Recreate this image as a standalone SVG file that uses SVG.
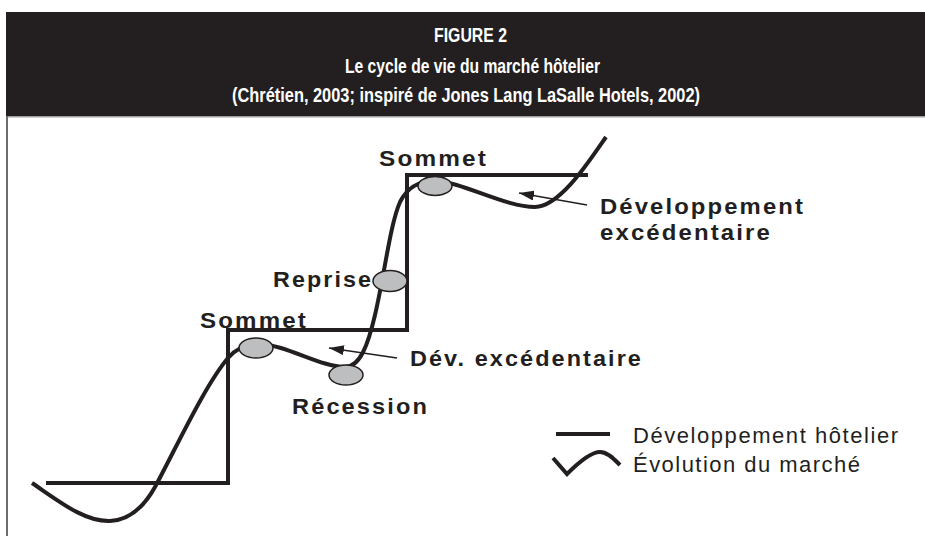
<svg xmlns="http://www.w3.org/2000/svg" width="925" height="536" viewBox="0 0 925 536">
<style>
.hdr{font-family:"Liberation Sans Narrow","Liberation Sans",Arial,sans-serif;font-weight:bold;font-size:21px;fill:#ffffff}
.lbl{font-family:"Liberation Sans",Arial,sans-serif;font-weight:bold;font-size:22.5px;letter-spacing:2px;fill:#231f20}
.leg{font-family:"Liberation Sans",Arial,sans-serif;font-size:22px;fill:#231f20}
.thick{fill:none;stroke:#231f20;stroke-width:4}
.pt{fill:#bcbec0;stroke:#231f20;stroke-width:1.5}
.arr{fill:none;stroke:#231f20;stroke-width:1.5}
</style>
<defs>
<marker id="ah" viewBox="0 0 15 10" refX="15" refY="5" markerWidth="15" markerHeight="10" markerUnits="userSpaceOnUse" orient="auto">
<path d="M0,0 L15,5 L0,10 z" fill="#231f20"/>
</marker>
</defs>
<rect x="0" y="0" width="925" height="536" fill="#ffffff"/>
<g id="header">
<rect x="6" y="12" width="919" height="104" fill="#231f20"/>
<rect x="6" y="116" width="919" height="1.5" fill="#a0a0a0"/>
<text class="hdr" x="434" y="42" textLength="73" lengthAdjust="spacingAndGlyphs">FIGURE 2</text>
<text class="hdr" x="345" y="73" textLength="255" lengthAdjust="spacingAndGlyphs">Le cycle de vie du marché hôtelier</text>
<text class="hdr" x="232" y="102" textLength="468" lengthAdjust="spacingAndGlyphs">(Chrétien, 2003; inspiré de Jones Lang LaSalle Hotels, 2002)</text>
</g>
<rect x="6" y="116" width="2" height="420" fill="#6d6d6d"/>
<g id="developpement-hotelier">
<path class="thick" d="M46,483 H228 V330 H407 V175 H588"/>
</g>
<g id="evolution-marche">
<path class="thick" d="M32,483 C60,502 85,522 110,521 C130,520 145,505 155,487 C175,450 205,385 228,358 C236,349 245,344 258,344 C285,344 320,367 345,367 C360,367 368,345 375,315 C385,272 390,225 400,202 C408,186 420,181 435,181 C460,181 505,207 535,207 C560,207 590,160 606,137"/>
</g>
<g id="connectors">
<line class="arr" x1="397" y1="358" x2="329" y2="348" marker-end="url(#ah)"/>
<line class="arr" x1="587" y1="205" x2="519" y2="193" marker-end="url(#ah)"/>
</g>
<g id="sommet-1">
<ellipse class="pt" cx="256" cy="348" rx="17" ry="10"/>
<text class="lbl" x="200" y="328" textLength="108" lengthAdjust="spacingAndGlyphs">Sommet</text>
</g>
<g id="recession">
<ellipse class="pt" cx="346" cy="375" rx="17" ry="10"/>
<text class="lbl" x="292" y="414" textLength="137" lengthAdjust="spacingAndGlyphs">Récession</text>
</g>
<g id="reprise">
<ellipse class="pt" cx="390" cy="281" rx="17" ry="10.5"/>
<text class="lbl" x="273" y="287" textLength="100" lengthAdjust="spacingAndGlyphs">Reprise</text>
</g>
<g id="sommet-2">
<ellipse class="pt" cx="435" cy="186" rx="17" ry="9.5"/>
<text class="lbl" x="379" y="166" textLength="109" lengthAdjust="spacingAndGlyphs">Sommet</text>
</g>
<g id="dev-excedentaire-1">
<text class="lbl" x="410" y="366" textLength="233" lengthAdjust="spacingAndGlyphs">Dév. excédentaire</text>
</g>
<g id="dev-excedentaire-2">
<text class="lbl" x="600" y="214" textLength="205" lengthAdjust="spacingAndGlyphs">Développement</text>
<text class="lbl" x="600" y="240" textLength="172" lengthAdjust="spacingAndGlyphs">excédentaire</text>
</g>
<g id="legend">
<line class="thick" x1="556" y1="434" x2="610" y2="434"/>
<path class="thick" d="M553,458 L567,474 C575,466 590,452 600,452 C608,452 615,460 620,465"/>
<text class="leg" x="633" y="443" textLength="265" lengthAdjust="spacing">Développement hôtelier</text>
<text class="leg" x="633" y="472" textLength="227" lengthAdjust="spacing">Évolution du marché</text>
</g>
</svg>
